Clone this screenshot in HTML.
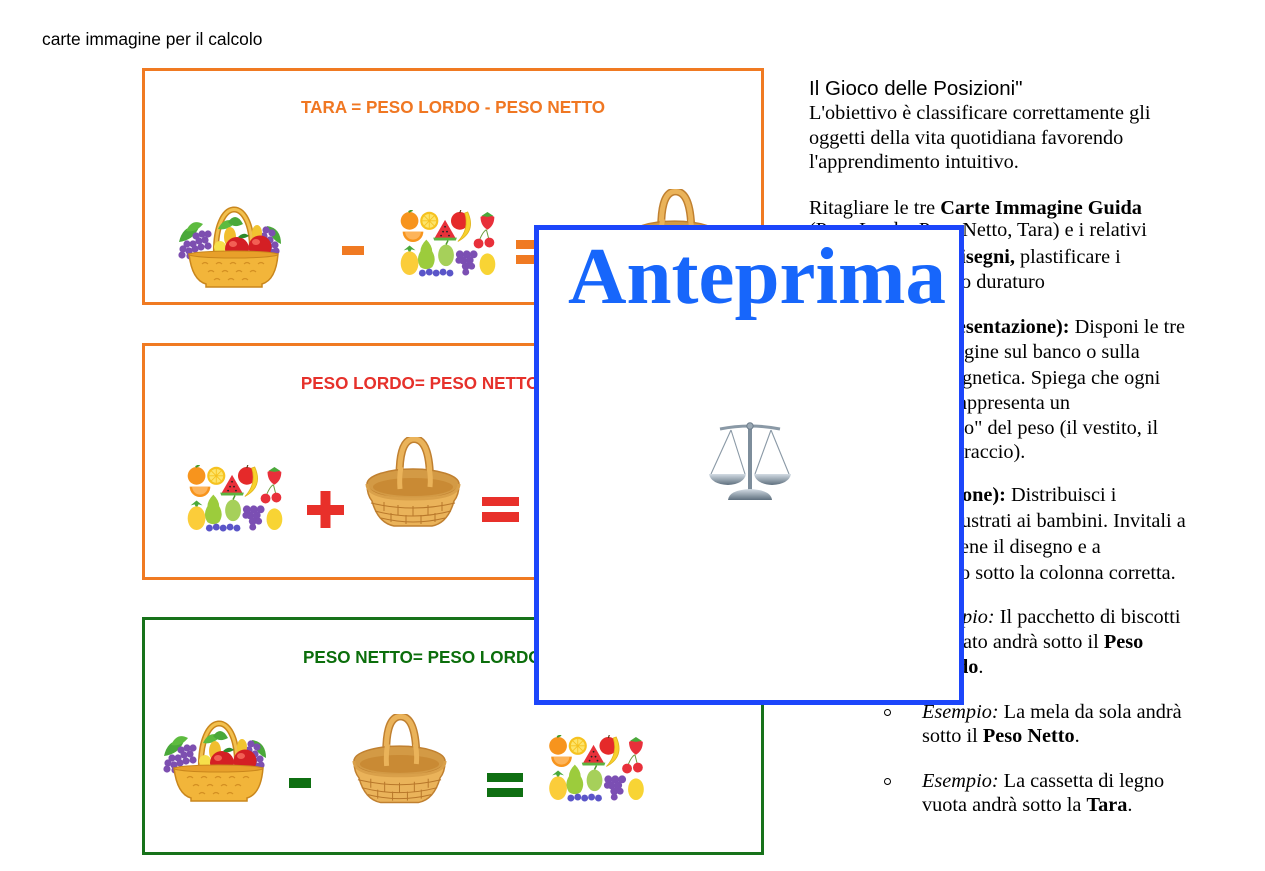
<!DOCTYPE html>
<html>
<head>
<meta charset="utf-8">
<style>
  html,body{margin:0;padding:0;background:#fff;}
  body{width:1265px;height:871px;position:relative;overflow:hidden;}
  .abs{position:absolute;white-space:nowrap;}
  .sans{font-family:"Liberation Sans",Arial,sans-serif;}
  .serif{font-family:"Liberation Serif","Times New Roman",serif;}
  .ln{position:absolute;left:809px;font-family:"Liberation Serif","Times New Roman",serif;font-size:20.3px;line-height:24px;color:#000;white-space:nowrap;}
  .frag{position:absolute;top:0;white-space:nowrap;}
  .title{position:absolute;left:142px;width:622px;text-align:center;font-family:"Liberation Sans",Arial,sans-serif;font-weight:bold;font-size:17.1px;line-height:20px;white-space:nowrap;}
  .bul{position:absolute;left:884px;width:5px;height:5px;border:1.6px solid #000;border-radius:50%;}
</style>
</head>
<body>

<!-- Layer 1: cards and pictures -->
<svg class="abs" style="left:0;top:0" width="1265" height="871" viewBox="0 0 1265 871">
  <defs>
    <!-- fruit basket -->
    <symbol id="fb" viewBox="0 0 104 90">
      <path d="M38 56 C36 -4 74 -6 74 50" fill="none" stroke="#c9861c" stroke-width="6"/>
      <path d="M38 56 C36 -4 74 -6 74 50" fill="none" stroke="#f2c04e" stroke-width="3"/>
      <path d="M1 42 Q5 24 21 27 Q16 40 1 42Z" fill="#4aa83a"/>
      <path d="M8 31 Q14 18 25 24 Q18 33 8 31Z" fill="#5dbb3f"/>
      <path d="M89 26 Q103 28 103 44 Q92 39 89 26Z" fill="#4aa83a"/>
      <path d="M40 29 Q46 16 58 22 Q50 31 40 29Z" fill="#5dbb3f"/>
      <path d="M50 22 Q58 11 65 24 Q56 29 50 22Z" fill="#4aa83a"/>
      <g fill="#7d4fb0">
        <circle cx="5" cy="49" r="3.6"/><circle cx="11" cy="51" r="3.6"/><circle cx="17" cy="49" r="3.6"/>
        <circle cx="23" cy="47" r="3.6"/><circle cx="9" cy="44" r="3.6"/><circle cx="15" cy="44" r="3.6"/>
        <circle cx="21" cy="41" r="3.6"/><circle cx="27" cy="40" r="3.6"/><circle cx="30" cy="46" r="3.6"/>
        <circle cx="18" cy="36" r="3.6"/><circle cx="24" cy="34" r="3.6"/><circle cx="30" cy="34" r="3.6"/>
        <circle cx="12" cy="56" r="3.6"/><circle cx="4" cy="55" r="3.6"/>
        <circle cx="80" cy="38" r="3.6"/><circle cx="86" cy="36" r="3.6"/><circle cx="92" cy="40" r="3.6"/>
        <circle cx="85" cy="44" r="3.6"/><circle cx="91" cy="46" r="3.6"/><circle cx="97" cy="45" r="3.6"/>
        <circle cx="98" cy="51" r="3.6"/><circle cx="93" cy="52" r="3.6"/><circle cx="88" cy="30" r="3.6"/>
        <circle cx="94" cy="33" r="3.6"/><circle cx="78" cy="44" r="3.6"/>
      </g>
      <ellipse cx="52" cy="37" rx="6" ry="10" fill="#f1be2e"/>
      <ellipse cx="79" cy="33" rx="5" ry="8" fill="#f1c430"/>
      <ellipse cx="42" cy="47" rx="6" ry="6" fill="#f6e04a"/>
      <circle cx="59" cy="49" r="12" fill="#d41f24"/>
      <circle cx="82" cy="47" r="11.5" fill="#d41f24"/>
      <ellipse cx="55" cy="44" rx="4" ry="3" fill="#ff7a6a" opacity=".7"/>
      <ellipse cx="78" cy="42" rx="4" ry="3" fill="#ff7a6a" opacity=".7"/>
      <path d="M60 37 Q66 31 71 36 Q64 40 60 37Z" fill="#2f8a2a"/>
      <path d="M11 54 Q14 80 28 84 L28 87 L84 87 L84 84 Q98 80 100 54 Z" fill="#f2b53a" stroke="#c9861c" stroke-width="1.5"/>
      <ellipse cx="55.5" cy="54.5" rx="44.5" ry="3.5" fill="#e8a02a" stroke="#c9861c" stroke-width="1"/>
      <g fill="none" stroke="#d38f22" stroke-width="1.2">
        <path d="M24 64 q3 -3 6 0 M38 64 q3 -3 6 0 M52 64 q3 -3 6 0 M66 64 q3 -3 6 0 M80 64 q3 -3 6 0"/>
        <path d="M30 72 q3 -3 6 0 M44 72 q3 -3 6 0 M58 72 q3 -3 6 0 M72 72 q3 -3 6 0"/>
        <path d="M36 80 q3 -3 6 0 M50 80 q3 -3 6 0 M64 80 q3 -3 6 0"/>
      </g>
    </symbol>

    <!-- fruits group -->
    <symbol id="fr" viewBox="0 0 98 70">
      <circle cx="10" cy="11" r="9" fill="#f7941d"/>
      <path d="M9 2 l4 -2" stroke="#4a9a2a" stroke-width="2"/>
      <circle cx="30" cy="11" r="9.2" fill="#f6c21f"/>
      <circle cx="30" cy="11" r="7" fill="#fde46a"/>
      <path d="M30 4 V18 M23 11 H37 M25 6 L35 16 M35 6 L25 16" stroke="#f6c21f" stroke-width="0.9"/>
      <path d="M35 29 L46 10 L57 29 Z" fill="#e8313a"/>
      <path d="M34 28 L58 28 L57 31 L35 31 Z" fill="#5cb33f"/>
      <g fill="#222"><circle cx="44" cy="22" r=".9"/><circle cx="48" cy="22" r=".9"/><circle cx="46" cy="17" r=".9"/><circle cx="42" cy="26" r=".9"/><circle cx="50" cy="26" r=".9"/></g>
      <circle cx="61" cy="11" r="9" fill="#e52a2a"/>
      <path d="M61 3 l1 -3" stroke="#5a3a1a" stroke-width="1.2"/>
      <path d="M69 2 Q78 22 59 32 Q71 19 66 3 Z" fill="#f8d12c" stroke="#e0b41c" stroke-width=".8"/>
      <path d="M82 7 Q89 3 96 7 Q96 16 89 20 Q82 16 82 7 Z" fill="#e8303a"/>
      <path d="M83 6 L89 2 L95 6 L89 7 Z" fill="#4aa83a"/>
      <path d="M3 22 A10.5 10.5 0 0 0 24 22 Z" fill="#f7941d"/>
      <path d="M5.5 22 A8 8 0 0 0 21.5 22 Z" fill="#fdb45a"/>
      <path d="M80 33 Q84 22 88 20 M91 32 Q89 24 88 20" stroke="#6a9a3a" stroke-width="1" fill="none"/>
      <circle cx="80" cy="34" r="5" fill="#e8303a"/>
      <circle cx="91" cy="33" r="5" fill="#e8303a"/>
      <path d="M4 41 L10 36 L16 41 L12 40 L10 44 L8 40 Z" fill="#4aa83a"/>
      <ellipse cx="10" cy="54" rx="9" ry="12" fill="#fbcd3a"/>
      <path d="M27 30 Q33 36 33 42 Q38 50 33 58 Q27 62 21 58 Q16 50 21 42 Q21 36 27 30Z" fill="#9ccc3c"/>
      <ellipse cx="47" cy="46" rx="8" ry="11" fill="#a6d05a"/>
      <path d="M47 35 l2 -4" stroke="#4a9a2a" stroke-width="1.5"/>
      <g fill="#7b4fb3">
        <circle cx="61" cy="45" r="4"/><circle cx="68" cy="45" r="4"/><circle cx="75" cy="45" r="4"/>
        <circle cx="64" cy="51" r="4"/><circle cx="71" cy="51" r="4"/><circle cx="60" cy="51" r="3.5"/>
        <circle cx="67" cy="57" r="4"/><circle cx="73" cy="57" r="3.5"/><circle cx="67" cy="63" r="3.5"/>
      </g>
      <ellipse cx="89" cy="55" rx="8" ry="11" fill="#f8d434"/>
      <g fill="#5a55c8">
        <circle cx="23" cy="64" r="3.5"/><circle cx="30" cy="63" r="3.5"/><circle cx="37" cy="64" r="3.5"/>
        <circle cx="44" cy="63" r="3.5"/><circle cx="51" cy="64" r="3.5"/>
      </g>
    </symbol>

    <!-- empty basket -->
    <symbol id="eb" viewBox="0 0 98 90">
      <path d="M36 52 Q33 2 50 2 Q67 2 66 50" fill="none" stroke="#c08030" stroke-width="8"/>
      <path d="M36 52 Q33 2 50 2 Q67 2 66 50" fill="none" stroke="#eab35a" stroke-width="5"/>
      <ellipse cx="49" cy="47" rx="46" ry="15" fill="#d39a45" stroke="#c08030" stroke-width="1.5"/>
      <ellipse cx="49" cy="50" rx="40" ry="9" fill="#c98a34"/>
      <path d="M36 52 Q35 40 37 30" fill="none" stroke="#eab35a" stroke-width="5"/>
      <path d="M66 50 Q67 40 65 30" fill="none" stroke="#eab35a" stroke-width="5"/>
      <path d="M3 47 Q3 58 8 64 Q14 86 30 89 L68 89 Q84 86 90 64 Q95 58 95 47 Q95 62 49 62 Q3 62 3 47 Z" fill="#eab35a" stroke="#c08030" stroke-width="1.5"/>
      <g fill="none" stroke="#b8772a" stroke-width="1">
        <path d="M7 66 Q49 76 91 66"/>
        <path d="M11 74 Q49 84 87 74"/>
        <path d="M17 81 Q49 89 81 81"/>
        <path d="M20 65 V74 M34 68 V78 M49 69 V79 M64 68 V78 M78 65 V74"/>
        <path d="M27 76 V85 M42 78 V87 M57 78 V87 M71 76 V85"/>
      </g>
      <path d="M3 47 Q3 62 49 62 Q95 62 95 47" fill="none" stroke="#d9a04a" stroke-width="3"/>
    </symbol>
  </defs>

  <!-- Card 1 -->
  <rect x="143.5" y="69.5" width="619" height="234" fill="#fff" stroke="#f07a22" stroke-width="3"/>
  <use href="#fb" x="178" y="200" width="104" height="90"/>
  <rect x="342" y="246" width="22" height="9" fill="#f07a22"/>
  <use href="#fr" x="399" y="210" width="98" height="69"/>
  <rect x="516" y="240" width="37" height="9" fill="#f07a22"/>
  <rect x="516" y="255" width="37" height="9" fill="#f07a22"/>
  <use href="#eb" x="626" y="189" width="97" height="90"/>

  <!-- Card 2 -->
  <rect x="143.5" y="344.5" width="619" height="234" fill="#fff" stroke="#f07a22" stroke-width="3"/>
  <use href="#fr" x="186" y="465" width="98" height="69"/>
  <rect x="307" y="505" width="37" height="10" fill="#e8302a"/>
  <rect x="320.5" y="491" width="10" height="37" fill="#e8302a"/>
  <use href="#eb" x="364" y="437" width="98" height="90"/>
  <rect x="482" y="497" width="37" height="9" fill="#e8302a"/>
  <rect x="482" y="512" width="37" height="10" fill="#e8302a"/>

  <!-- Card 3 -->
  <rect x="143.5" y="618.5" width="619" height="235" fill="#fff" stroke="#17721a" stroke-width="3"/>
  <use href="#fb" x="163" y="714" width="104" height="90"/>
  <rect x="289" y="778" width="22" height="10" fill="#0f6f12"/>
  <use href="#eb" x="351" y="714" width="97" height="90"/>
  <rect x="487" y="773" width="36" height="9" fill="#0f6f12"/>
  <rect x="487" y="788" width="36" height="9" fill="#0f6f12"/>
  <use href="#fr" x="548" y="735" width="97" height="69"/>
</svg>

<!-- Top-left label -->
<div class="abs sans" style="left:42px;top:29px;font-size:17.4px;line-height:20px;color:#000;">carte immagine per il calcolo</div>

<!-- Card titles -->
<div class="title" style="top:98px;color:#f07722;">TARA = PESO LORDO - PESO NETTO</div>
<div class="title" style="top:374px;color:#e6312b;">PESO LORDO= PESO NETTO + TARA</div>
<div class="title" style="top:648px;color:#0b6e0b;">PESO NETTO= PESO LORDO - TARA</div>

<!-- Right column -->
<div class="abs sans" style="left:809px;top:77px;font-size:20.5px;line-height:24px;color:#000;">Il Gioco delle Posizioni"</div>
<div class="ln" style="top:101px;">L'obiettivo è classificare correttamente gli</div>
<div class="ln" style="top:126px;">oggetti della vita quotidiana favorendo</div>
<div class="ln" style="top:150px;">l'apprendimento intuitivo.</div>

<div class="ln" style="top:196px;">Ritagliare le tre <b>Carte Immagine Guida</b></div>
<div class="ln" style="top:218px;">(Peso Lordo, Peso Netto, Tara) e i relativi</div>
<div class="ln" style="top:245px;"><span class="frag" style="left:140px;"><b>disegni,</b> plastificare i</span></div>
<div class="ln" style="top:270px;"><span class="frag" style="left:152px;">o duraturo</span></div>

<div class="ln" style="top:315px;"><span class="frag" style="left:128px;"><b>presentazione):</b> Disponi le tre</span></div>
<div class="ln" style="top:340px;"><span class="frag" style="left:155px;">gine sul banco o sulla</span></div>
<div class="ln" style="top:366px;"><span class="frag" style="left:153px;">gnetica. Spiega che ogni</span></div>
<div class="ln" style="top:391px;"><span class="frag" style="left:149px;">appresenta un</span></div>
<div class="ln" style="top:416px;"><span class="frag" style="left:155px;">o" del peso (il vestito, il</span></div>
<div class="ln" style="top:440px;"><span class="frag" style="left:155px;">raccio).</span></div>

<div class="ln" style="top:483px;"><span class="frag" style="left:153px;"><b>one):</b> Distribuisci i</span></div>
<div class="ln" style="top:509px;"><span class="frag" style="left:152px;">ustrati ai bambini. Invitali a</span></div>
<div class="ln" style="top:535px;"><span class="frag" style="left:151px;">ene il disegno e a</span></div>
<div class="ln" style="top:561px;"><span class="frag" style="left:151px;">o sotto la colonna corretta.</span></div>

<div class="ln" style="top:605px;"><span class="frag" style="left:153px;"><i>pio:</i> Il pacchetto di biscotti</span></div>
<div class="ln" style="top:630px;"><span class="frag" style="left:154px;">ato andrà sotto il <b>Peso</b></span></div>
<div class="ln" style="top:655px;"><span class="frag" style="left:148px;"><b>do</b>.</span></div>

<div class="bul" style="top:709px;"></div>
<div class="ln" style="top:700px;left:922px;"><i>Esempio:</i> La mela da sola andrà</div>
<div class="ln" style="top:724px;left:922px;">sotto il <b>Peso Netto</b>.</div>
<div class="bul" style="top:778px;"></div>
<div class="ln" style="top:769px;left:922px;"><i>Esempio:</i> La cassetta di legno</div>
<div class="ln" style="top:793px;left:922px;">vuota andrà sotto la <b>Tara</b>.</div>

<!-- Preview overlay -->
<div class="abs" style="left:534px;top:225px;width:430px;height:480px;box-sizing:border-box;border:5px solid #1c46fb;background:#fff;"></div>
<div class="abs serif" style="left:568px;top:236px;font-size:81px;line-height:81px;font-weight:bold;color:#1766fb;">Anteprima</div>

<svg class="abs" style="left:700px;top:415px" width="100" height="95" viewBox="700 415 100 95">
  <defs>
    <linearGradient id="met" x1="0" y1="0" x2="0" y2="1">
      <stop offset="0" stop-color="#d3dce4"/>
      <stop offset="1" stop-color="#5e6f7e"/>
    </linearGradient>
  </defs>
  <path d="M720 429 Q750 423 780 429" stroke="#8a99a6" stroke-width="3" fill="none"/>
  <rect x="748" y="426" width="4" height="66" fill="#7d8d9b"/>
  <circle cx="750" cy="426" r="3.2" fill="#9aa8b4" stroke="#6d7d8b" stroke-width="1"/>
  <path d="M728 500 Q729 490 750 489 Q771 490 772 500 Z" fill="url(#met)"/>
  <path d="M731 430 L711 474 M731 430 L745 474 M771 430 L755 474 M771 430 L789 474" stroke="#8a99a6" stroke-width="1.1" fill="none"/>
  <path d="M709 474 L746 474 Q744 484 728 485 Q711 484 709 474 Z" fill="url(#met)"/>
  <path d="M754 474 L791 474 Q789 484 772 485 Q756 484 754 474 Z" fill="url(#met)"/>
</svg>

</body>
</html>
